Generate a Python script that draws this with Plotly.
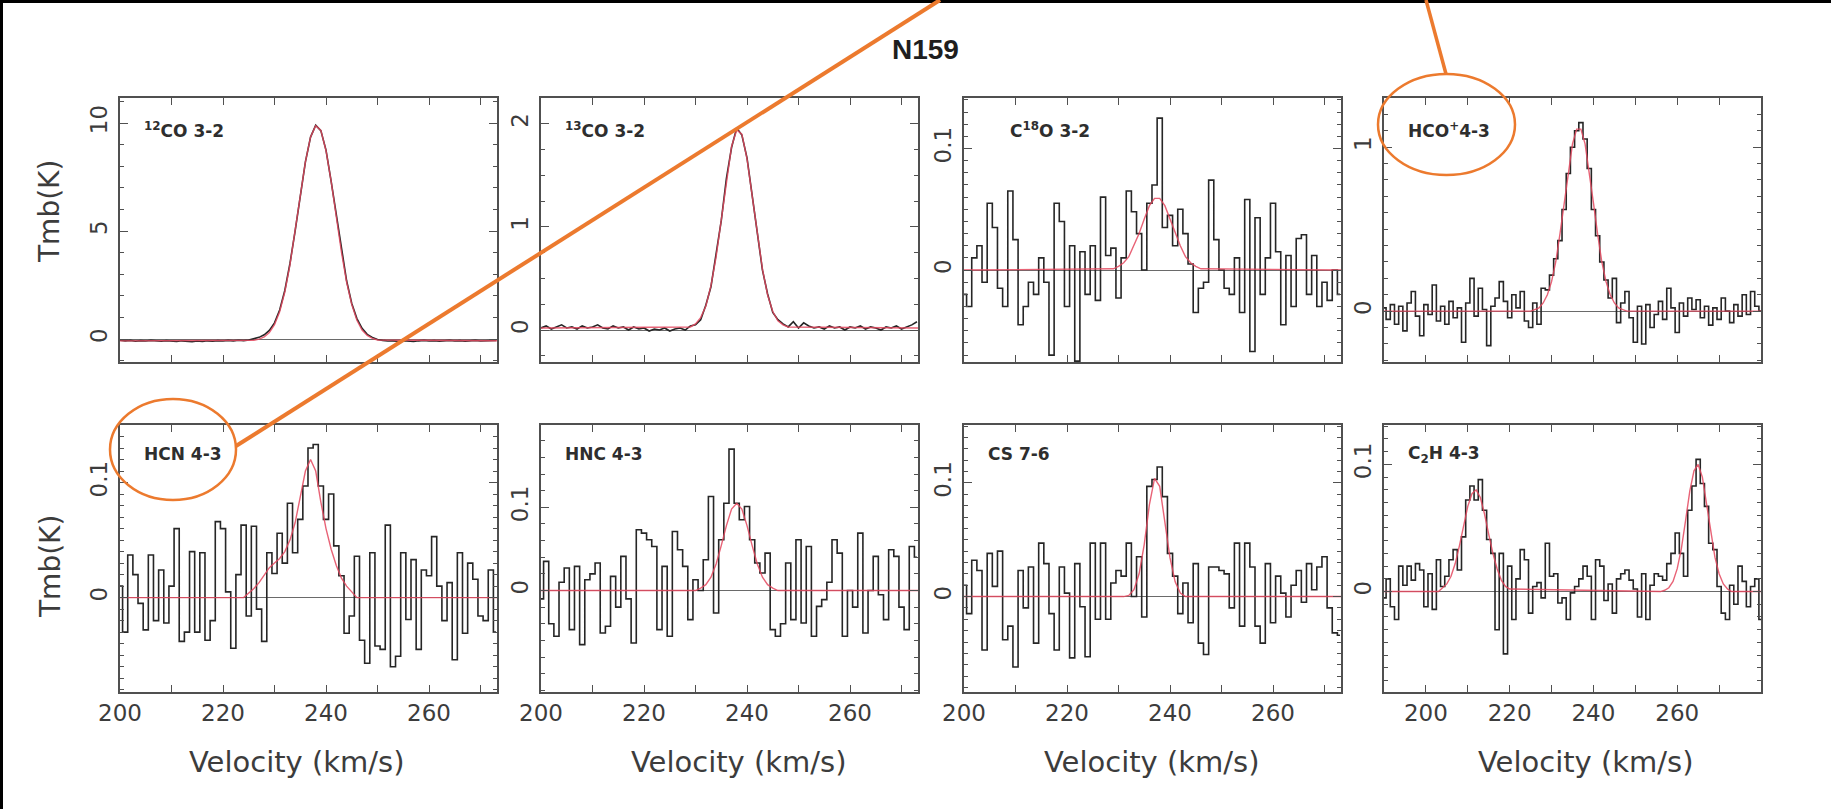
import plotly.graph_objects as go

W, H = 1831, 809
FONT = "DejaVu Sans, Verdana, sans-serif"
TFONT = "Liberation Sans, Arial, Helvetica, sans-serif"

# ---------------- data : Tmb (K) per 1 km/s channel ----------------
# 12CO 3-2  (channels from 200 km/s)
co12_v0 = 200
co12_T = [-0.05, -0.08, -0.06, -0.1, -0.07, -0.09, -0.06, -0.08, -0.1, -0.07,
          -0.09, -0.11, -0.08, -0.1, -0.12, -0.09, -0.11, -0.08, -0.1, -0.07,
          -0.09, -0.06, -0.08, -0.05, -0.07, -0.04, 0.02,
          0.08, 0.2, 0.4, 0.75, 1.35, 2.25, 3.5, 5.0, 6.65, 8.2, 9.35, 9.9, 9.65,
          8.75, 7.3, 5.7, 4.1, 2.7, 1.65, 0.95, 0.5, 0.22, 0.08,
          -0.02, -0.06, -0.09, -0.08, -0.1, -0.07, -0.09, -0.11, -0.08, -0.06,
          -0.09, -0.07, -0.1, -0.08, -0.06, -0.09, -0.07, -0.1, -0.08, -0.06,
          -0.09, -0.07, -0.08, -0.06]
co12_fit_v = [200] + list(range(226, 251)) + [274]
co12_fit_T = [-0.08, -0.05, 0.0, 0.1, 0.3, 0.67, 1.27, 2.18, 3.44, 4.97, 6.64, 8.2,
              9.36, 9.88, 9.66, 8.72, 7.3, 5.64, 4.02, 2.64, 1.6, 0.87, 0.42, 0.17,
              0.03, -0.04, -0.08]

# 13CO 3-2
co13_v0 = 200
co13_T = [0.02, 0.04, 0.01, 0.03, 0.05, 0.02, 0.03, 0.01, 0.04, 0.02,
          0.03, 0.05, 0.02, 0.01, 0.04, 0.02, 0.03, 0.0, 0.03, 0.01,
          0.02, -0.01, 0.01, 0.0, 0.02, -0.01, 0.01, 0.02, 0.0, 0.04,
          0.05, 0.1, 0.24, 0.42, 0.72, 1.06, 1.47, 1.77, 1.96, 1.89,
          1.67, 1.3, 0.93, 0.58, 0.35, 0.17, 0.1, 0.06,
          0.03, 0.08, 0.02, 0.07, 0.04, 0.02, 0.03, 0.01, 0.04, 0.02,
          0.03, 0.0, 0.03, 0.02, 0.04, 0.01, 0.03, 0.02, 0.0, 0.03,
          0.02, 0.04, 0.01, 0.03, 0.05, 0.08]
co13_fit_v = [200] + list(range(229, 249)) + [274]
co13_fit_T = [0.02, 0.03, 0.06, 0.12, 0.23, 0.43, 0.71, 1.07, 1.46, 1.78, 1.94, 1.9,
              1.66, 1.31, 0.92, 0.59, 0.34, 0.18, 0.09, 0.05, 0.03, 0.02]

# C18O 3-2
c18o_v0 = 200
c18o_T = [-0.02, -0.03, 0.01, 0.02, -0.01, 0.055, 0.035, -0.015, -0.03, 0.065,
          0.025, -0.045, -0.03, -0.01, -0.02, 0.01, -0.01, -0.07, 0.055, 0.04,
          -0.03, 0.02, -0.075, 0.015, -0.02, 0.02, -0.025, 0.06, 0.012, 0.018,
          -0.023, 0.01, 0.065, 0.048, 0.03, 0.0, 0.055, 0.07, 0.125, 0.035,
          0.045, 0.02, 0.05, 0.03, 0.005, -0.035, -0.015, -0.01, 0.074, 0.025,
          0.0, -0.015, -0.02, 0.01, -0.035, 0.058, -0.067, 0.043, -0.02, 0.01,
          0.055, 0.015, -0.045, 0.012, -0.03, 0.026, 0.029, -0.02, 0.012, -0.03,
          -0.01, -0.025, 0.0, -0.02]
c18o_fit_v = [200] + list(range(229, 247)) + [274]
c18o_fit_T = [0.0, 0.001, 0.003, 0.006, 0.011, 0.02, 0.03, 0.042, 0.053, 0.059, 0.059,
              0.053, 0.042, 0.03, 0.02, 0.011, 0.006, 0.003, 0.001, 0.0]

# HCO+ 4-3  (channels from 190 km/s)
hcop_v0 = 190
hcop_T = [0.02, -0.05, 0.04, -0.08, 0.03, -0.12, 0.05, 0.12, -0.03, -0.15,
          0.04, -0.02, 0.16, -0.06, 0.03, -0.08, 0.06, -0.04, 0.02, -0.19,
          0.05, 0.2, -0.03, 0.14, 0.01, -0.21, 0.03, 0.08, 0.18, 0.06,
          -0.04, 0.1, 0.02, 0.12, -0.06, -0.1, 0.05, -0.08, 0.14, 0.13,
          0.22, 0.32, 0.43, 0.62, 0.84, 1.0, 1.1, 1.15, 1.05, 0.87,
          0.62, 0.46, 0.3, 0.19, 0.08, 0.2, -0.07, 0.05, 0.12, -0.04,
          -0.19, 0.03, -0.2, 0.04, -0.1, -0.02, 0.06, -0.05, 0.14, 0.02,
          -0.13, 0.05, -0.03, 0.08, 0.01, 0.07, -0.04, 0.03, -0.085, 0.02,
          -0.05, 0.08, 0.0, -0.07, 0.04, -0.03, 0.1, -0.02, 0.12, 0.03, 0.0]
hcop_fit_v = [190, 225] + list(range(226, 248)) + [248, 280]
hcop_fit_T = [0.0, 0.0, 0.01, 0.02, 0.05, 0.10, 0.18, 0.30, 0.47, 0.66, 0.85, 1.02,
              1.11, 1.11, 1.02, 0.85, 0.66, 0.47, 0.30, 0.18, 0.10, 0.05, 0.02, 0.01,
              0.0, 0.0]

# HCN 4-3
hcn_v0 = 200
hcn_T = [0.01, -0.03, 0.037, 0.02, -0.005, -0.028, 0.037, -0.02, 0.024, -0.022,
         0.01, 0.06, -0.038, -0.03, 0.04, -0.03, 0.039, -0.037, -0.02, 0.066,
         0.06, 0.005, -0.044, 0.02, 0.063, -0.016, 0.062, -0.01, -0.038, 0.039,
         0.021, 0.056, 0.03, 0.082, 0.039, 0.068, 0.097, 0.13, 0.133, 0.097,
         0.068, 0.09, 0.045, 0.019, -0.031, -0.016, 0.036, -0.037, -0.057, 0.039,
         -0.042, -0.045, 0.063, -0.06, -0.051, 0.039, -0.019, 0.033, -0.045, 0.024,
         0.019, 0.053, 0.01, -0.02, 0.013, -0.054, 0.039, -0.031, 0.03, 0.016,
         -0.016, -0.02, 0.024, -0.03]
hcn_fit_v = [200] + list(range(224, 247)) + [274]
hcn_fit_T = [0.0, 0.0, 0.004, 0.008, 0.013, 0.019, 0.026, 0.03, 0.034, 0.04, 0.05,
             0.065, 0.088, 0.11, 0.12, 0.11, 0.083, 0.06, 0.042, 0.028, 0.017, 0.01,
             0.005, 0.0, 0.0]

# HNC 4-3
hnc_v0 = 200
hnc_T = [-0.01, 0.035, -0.04, -0.055, 0.01, 0.027, -0.047, 0.029, -0.065, 0.013,
         0.02, 0.033, -0.051, -0.043, 0.017, -0.02, 0.041, -0.01, -0.063, 0.073,
         0.069, 0.061, 0.053, -0.047, 0.029, -0.055, 0.071, 0.049, 0.029, -0.035,
         0.013, 0.0, 0.037, 0.113, -0.027, 0.061, 0.105, 0.17, 0.105, 0.085,
         0.101, 0.061, 0.033, 0.021, 0.045, -0.047, -0.055, -0.04, 0.033, -0.035,
         0.061, -0.039, 0.053, -0.055, -0.019, -0.011, 0.01, 0.061, 0.045, -0.055,
         0.0, -0.02, 0.069, -0.051, 0.0, 0.041, -0.005, -0.035, 0.049, 0.041,
         -0.02, -0.047, 0.053, 0.04]
hnc_fit_v = [200, 230] + list(range(231, 246)) + [246, 274]
hnc_fit_T = [0.0, 0.0, 0.003, 0.007, 0.016, 0.032, 0.054, 0.078, 0.098, 0.105, 0.098,
             0.078, 0.054, 0.032, 0.016, 0.007, 0.003, 0.0, 0.0]

# CS 7-6
cs_v0 = 200
cs_T = [0.01, -0.015, 0.032, 0.023, -0.047, 0.038, 0.009, 0.04, -0.038, -0.026,
        -0.062, 0.023, -0.01, 0.026, -0.041, 0.047, 0.029, -0.015, -0.047, 0.026,
        0.003, -0.054, 0.029, -0.009, -0.053, 0.047, -0.02, 0.047, -0.02, 0.012,
        0.023, 0.018, 0.047, 0.0, 0.035, -0.018, 0.097, 0.103, 0.114, 0.088,
        0.038, 0.018, -0.015, 0.012, -0.023, 0.029, -0.041, -0.051, 0.026, 0.026,
        0.023, 0.02, -0.01, 0.047, -0.026, 0.047, 0.026, -0.026, -0.041, 0.029,
        -0.023, 0.018, 0.003, -0.018, 0.01, 0.023, -0.005, 0.029, 0.006, 0.026,
        0.035, -0.01, -0.032, -0.034]
cs_fit_v = [200, 231] + list(range(232, 243)) + [243, 274]
cs_fit_T = [0.0, 0.0, 0.001, 0.006, 0.02, 0.046, 0.081, 0.104, 0.097, 0.067, 0.034,
            0.013, 0.003, 0.0, 0.0]

# C2H 4-3  (channels from 190 km/s)
c2h_v0 = 190
c2h_T = [-0.005, 0.01, -0.012, -0.022, 0.02, 0.005, 0.02, 0.009, 0.022, 0.017,
         -0.012, 0.014, -0.014, 0.025, 0.004, 0.012, 0.025, 0.033, 0.017, 0.043,
         0.072, 0.083, 0.072, 0.088, 0.064, 0.041, 0.03, -0.03, 0.03, -0.049,
         0.02, -0.022, 0.01, 0.033, 0.025, -0.017, 0.004, 0.007, -0.005, 0.038,
         0.012, 0.014, -0.009, -0.005, -0.022, -0.001, 0.004, 0.01, 0.02, 0.012,
         -0.022, 0.025, 0.02, -0.007, 0.006, -0.017, 0.01, 0.014, 0.017, 0.009,
         0.002, -0.02, 0.014, -0.022, 0.005, 0.014, 0.012, 0.009, 0.022, 0.03,
         0.046, 0.03, 0.012, 0.064, 0.083, 0.104, 0.085, 0.067, 0.038, 0.033,
         0.004, -0.017, -0.022, 0.005, -0.01, 0.02, 0.008, -0.012, 0.004, 0.01, -0.022]
c2h_fit_v = [190, 203] + list(range(204, 221)) + [256] + list(range(257, 274)) + [280]
c2h_fit_T = [0.0, 0.0,
             0.003, 0.006, 0.012, 0.022, 0.036, 0.052, 0.067, 0.077, 0.08, 0.074,
             0.061, 0.045, 0.03, 0.018, 0.009, 0.004, 0.002,
             0.0,
             0.001, 0.003, 0.008, 0.018, 0.034, 0.056, 0.079, 0.095, 0.1, 0.09,
             0.07, 0.047, 0.027, 0.014, 0.006, 0.002, 0.0,
             0.0]

labels = ["<sup>12</sup>CO 3-2", "<sup>13</sup>CO 3-2", "C<sup>18</sup>O 3-2",
          "HCO<sup>+</sup>4-3", "HCN 4-3", "HNC 4-3", "CS 7-6", "C<sub>2</sub>H 4-3"]
spectra = [(co12_v0, co12_T), (co13_v0, co13_T), (c18o_v0, c18o_T), (hcop_v0, hcop_T),
           (hcn_v0, hcn_T), (hnc_v0, hnc_T), (cs_v0, cs_T), (c2h_v0, c2h_T)]
fits = [(co12_fit_v, co12_fit_T), (co13_fit_v, co13_fit_T), (c18o_fit_v, c18o_fit_T),
        (hcop_fit_v, hcop_fit_T), (hcn_fit_v, hcn_fit_T), (hnc_fit_v, hnc_fit_T),
        (cs_fit_v, cs_fit_T), (c2h_fit_v, c2h_fit_T)]
y_ticks = [[0, 5, 10], [0, 1, 2], [0, 0.1], [0, 1], [0, 0.1], [0, 0.1], [0, 0.1], [0, 0.1]]
y_ranges = [[-1.06, 11.16], [-0.31, 2.25], [-0.0757, 0.1416], [-0.31, 1.30],
            [-0.082, 0.150], [-0.122, 0.199], [-0.084, 0.151], [-0.079, 0.131]]
y_minor = [1, 0.25, 0.01, 0.1, 0.01, 0.02, 0.01, 0.01]
x_ticks = [200, 220, 240, 260]

# ---------------- layout geometry (pixels) ----------------
col_px = [(120, 497), (541, 918), (964, 1341), (1384, 1761)]
row_px = [(98, 362), (425, 692)]
x_ranges_col = [[200, 273.2], [200, 273.2], [200, 273.2], [190, 280]]

fig = go.Figure()
AX = "#505050"
TXT = "#3c3c3c"

annotations = []
for i in range(8):
    r, c = divmod(i, 4)
    k = i + 1
    xs = "x" if k == 1 else f"x{k}"
    ys = "y" if k == 1 else f"y{k}"
    v0, T = spectra[i]
    vel = [v0 + j for j in range(len(T))]
    shape = "linear" if i < 2 else "hvh"
    fig.add_trace(go.Scatter(x=vel, y=T, mode="lines", xaxis=xs, yaxis=ys,
                             line=dict(color="#262626", width=1.6, shape=shape),
                             hoverinfo="skip"))
    fv, fT = fits[i]
    fig.add_trace(go.Scatter(x=fv, y=fT, mode="lines", xaxis=xs, yaxis=ys,
                             line=dict(color="#e5485f", width=1.4),
                             opacity=0.85, hoverinfo="skip"))
    l, rr = col_px[c]
    t, b = row_px[r]
    xr = x_ranges_col[c]
    xa = dict(domain=[l / W, rr / W], range=xr, anchor=ys, automargin=False,
              showline=True, linecolor=AX, linewidth=1.6, mirror="ticks",
              ticks="inside", ticklen=7, tickwidth=1.2, tickcolor=AX,
              tickmode="array", tickvals=x_ticks,
              showticklabels=(r == 1),
              tickfont=dict(family=FONT, size=23, color=TXT),
              minor=dict(ticks="inside", ticklen=7, tickwidth=1.2, tickcolor=AX,
                         dtick=10, tick0=xr[0] if c == 3 else 200, showgrid=False),
              showgrid=False, zeroline=False)
    ya = dict(domain=[1 - b / H, 1 - t / H], range=y_ranges[i], anchor=xs, automargin=False,
              showline=True, linecolor=AX, linewidth=1.6, mirror="ticks",
              ticks="inside", ticklen=8, tickwidth=1.2, tickcolor=AX,
              tickmode="array", tickvals=y_ticks[i],
              ticktext=[("%g" % v) for v in y_ticks[i]],
              tickangle=-90, ticklabelstandoff=2,
              tickfont=dict(family=FONT, size=23, color=TXT),
              minor=dict(ticks="inside", ticklen=4, tickwidth=1, tickcolor=AX,
                         dtick=y_minor[i], tick0=0, showgrid=False),
              showgrid=False, zeroline=True, zerolinecolor="#6a6a6a", zerolinewidth=1.3)
    fig.layout["xaxis" if k == 1 else f"xaxis{k}"] = xa
    fig.layout["yaxis" if k == 1 else f"yaxis{k}"] = ya

    # panel label
    lab_dx = 44 if i == 2 else 22
    lab_dy = 32 if r == 0 else 29
    annotations.append(dict(text=labels[i], xref="paper", yref="paper",
                            x=(l + lab_dx) / W, y=1 - (t + lab_dy) / H,
                            xanchor="left", yanchor="middle", showarrow=False,
                            font=dict(family=FONT, size=17, color="#2e2e2e", weight="bold")))

# x axis titles
for cx in [297, 739, 1152, 1586]:
    annotations.append(dict(text="Velocity (km/s)", xref="paper", yref="paper",
                            x=cx / W, y=1 - 762 / H, xanchor="center", yanchor="middle",
                            showarrow=False, font=dict(family=FONT, size=29, color=TXT)))
# y axis titles
for cy in [212, 567]:
    annotations.append(dict(text="Tmb(K)", xref="paper", yref="paper",
                            x=50 / W, y=1 - cy / H, xanchor="center", yanchor="middle",
                            textangle=-90, showarrow=False,
                            font=dict(family=FONT, size=28, color=TXT)))
# main title
annotations.append(dict(text="N159", xref="paper", yref="paper", x=926 / W, y=1 - 50 / H,
                        xanchor="center", yanchor="middle", showarrow=False,
                        font=dict(family=TFONT, size=28, color="#1e1e1e", weight="bold")))

ORANGE = "#ec7a2e"
shapes = [
    dict(type="rect", xref="paper", yref="paper", x0=0, x1=1, y0=1 - 3 / H, y1=1,
         fillcolor="black", line=dict(width=0)),
    dict(type="rect", xref="paper", yref="paper", x0=0, x1=3 / W, y0=0, y1=1,
         fillcolor="black", line=dict(width=0)),
    dict(type="rect", xref="paper", yref="paper", x0=1 - 3 / W, x1=1, y0=0, y1=1 - 3 / H,
         fillcolor="white", line=dict(width=0)),
    dict(type="circle", xref="paper", yref="paper", x0=110 / W, x1=236 / W,
         y0=1 - 500 / H, y1=1 - 399 / H, line=dict(color=ORANGE, width=2.5)),
    dict(type="circle", xref="paper", yref="paper", x0=1378 / W, x1=1515 / W,
         y0=1 - 175 / H, y1=1 - 74 / H, line=dict(color=ORANGE, width=2.5)),
    dict(type="line", xref="paper", yref="paper", x0=236 / W, y0=1 - 446 / H,
         x1=940 / W, y1=1.0, line=dict(color=ORANGE, width=4)),
    dict(type="line", xref="paper", yref="paper", x0=1446 / W, y0=1 - 74 / H,
         x1=1426 / W, y1=1.0, line=dict(color=ORANGE, width=3.5)),
]

fig.update_layout(width=W, height=H, margin=dict(l=0, r=0, t=0, b=0, pad=0),
                  paper_bgcolor="white", plot_bgcolor="white", showlegend=False,
                  annotations=annotations, shapes=shapes)

fig.write_html("out.html", config={"displayModeBar": False},
               post_script="document.body.style.margin='0';document.body.style.overflow='hidden';")
